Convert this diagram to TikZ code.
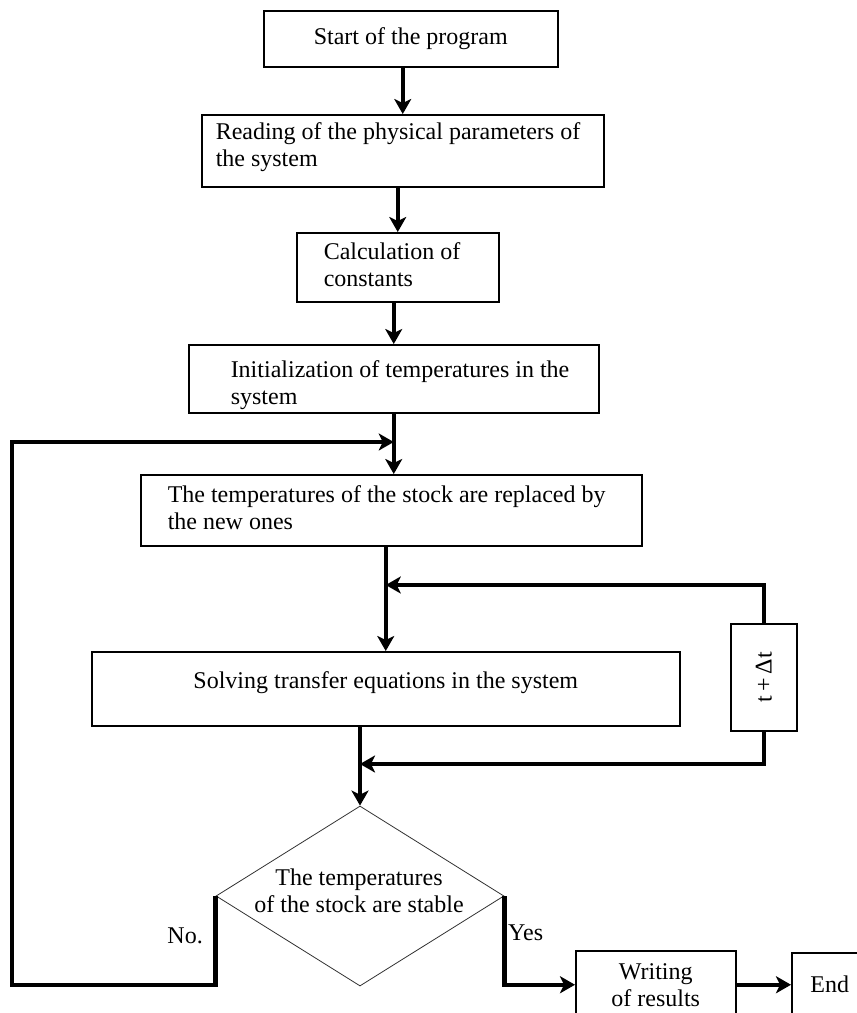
\documentclass[tikz,border=0pt]{standalone}
\usepackage{fontspec}
\setmainfont{Liberation Serif}
\usetikzlibrary{arrows.meta,shapes.geometric}

\begin{document}
\begin{tikzpicture}[x=1pt,y=-1pt,>={Stealth[length=15pt,width=17pt,inset=4pt]},
 every node/.style={font=\fontsize{24pt}{27pt}\selectfont},
 box/.style={draw,line width=1.5pt,fill=white,anchor=north west,inner sep=0pt},
 twoline/.style={align=flush left,text height=17pt,text depth=32pt},
 flow/.style={->,line width=4.3pt}]
    \clip (0,0) rectangle (857,1013);
    \node[box,minimum width=294pt,minimum height=56pt,align=center] (start) at (263,10)
        {Start of the program};
    \node[box,twoline,text width=402pt,minimum height=72pt,text height=9pt] (read) at (201,114)
        {\hspace*{14pt}Reading of the physical parameters of\\\hspace*{14pt}the system};
    \node[box,twoline,text width=202pt,minimum height=69pt] (calc) at (296,232)
        {\hspace*{27pt}Calculation of\\\hspace*{27pt}constants};
    \node[box,twoline,text width=410pt,minimum height=68pt,text height=29pt] (init) at (188,344)
        {\hspace*{42pt}Initialization of temperatures in the\\\hspace*{42pt}system};
    \node[box,twoline,text width=501pt,minimum height=71pt] (repl) at (140,474)
        {\hspace*{27pt}The temperatures of the stock are replaced by\\\hspace*{27pt}the new ones};
    \node[box,minimum width=588pt,minimum height=74pt,align=center,
          text height=17pt,text depth=17pt] (solve) at (91,651)
        {Solving transfer equations in the system};
    \node[box,minimum width=66pt,minimum height=107pt] (dt) at (730,623)
        {\rotatebox{90}{t\,+\,Δt}};
    \node[diamond,draw=black!80,line width=0.8pt,fill=white,minimum width=288pt,
          minimum height=180pt,inner sep=0pt] (cond) at (360,896) {};
    \node[align=center,inner sep=0pt] (condtext) at (359,891)
        {The temperatures\\of the stock are stable};
    \node[box,minimum width=160pt,minimum height=68pt,align=center] (write) at (575,950)
        {Writing\\of results};
    \node[box,minimum width=76pt,minimum height=64pt] (end) at (791,952) {End};
    \node[anchor=base east,inner sep=0pt] (no) at (203,943) {No.};
    \node[anchor=base west,inner sep=0pt] (yes) at (508,940) {Yes};
    \coordinate (joinA) at (init.south |- 0,442);
    \coordinate (joinB) at (solve.north |- 0,585);
    \coordinate (joinC) at (cond.north |- 0,764);
    \draw[flow] (read.north |- start.south) -- (read.north);
    \draw[flow] (calc.north |- read.south) -- (calc.north);
    \draw[flow] (init.north |- calc.south) -- (init.north);
    \draw[flow] (init.south) -- (init.south |- repl.north);
    \draw[flow] (solve.north |- repl.south) -- (solve.north);
    \draw[flow] (cond.north |- solve.south) -- (cond.north);
    \draw[flow] (dt.north) |- (joinB);
    \draw[flow] (dt.south) |- (joinC);
    \draw[flow] (cond.west) |- (12,985) |- (joinA);
    \draw[flow] (cond.east) |- (write.west);
    \draw[flow] (write.east) -- (end.west);
\end{tikzpicture}
\end{document}
